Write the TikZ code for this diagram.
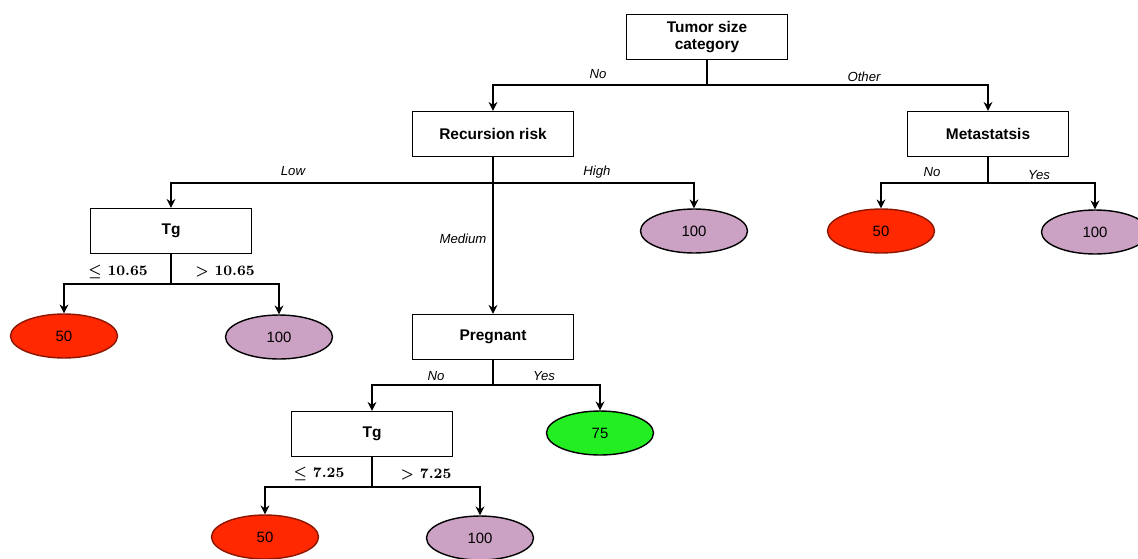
\documentclass[tikz,border=0pt]{standalone}
\usepackage{amsmath}
\usepackage{fontspec}
\setsansfont{Liberation Sans}
\usepackage{tikz}
\usetikzlibrary{arrows.meta, shapes.geometric}

\definecolor{hojarojo}{RGB}{255,40,0}
\definecolor{hojarosa}{RGB}{204,162,196}
\definecolor{hojaverde}{RGB}{34,238,34}

\tikzset{
  caja/.style={draw, line width=0.8pt, minimum width=3.22cm, minimum height=0.9cm,
    align=center, font=\sffamily\bfseries\fontsize{8.8}{9.2}\selectfont},
  hoja/.style={ellipse, line width=0.8pt, minimum width=2.14cm, minimum height=0.88cm,
    inner sep=0pt, font=\sffamily\fontsize{8.5}{10}\selectfont},
  rojo/.style={hoja, draw=hojarojo!55!black, fill=hojarojo},
  rosa/.style={hoja, draw=black, fill=hojarosa},
  verde/.style={hoja, draw=black, fill=hojaverde},
  rama/.style={line width=0.8pt},
  flecha/.style={line width=0.8pt, -{Stealth[length=5pt, width=5pt]}},
  etiq/.style={font=\sffamily\itshape\fontsize{7.5}{9}\selectfont, inner sep=1pt},
  umbral/.style={font=\bfseries\fontsize{8.2}{9}\selectfont, inner sep=1pt}
}

\begin{document}
\begin{tikzpicture}[x=0.02cm, y=-0.02cm]
  \useasboundingbox (0,0) rectangle (1138,558);

  % Nodos de decision
  \node[caja] (tumor) at (707,37) {Tumor size\\category};
  \node[caja] (recur) at (493,134) {Recursion risk};
  \node[caja] (meta) at (988,134) {Metastatsis};
  \node[caja] (tgA) at (171,231) {Tg};
  \node[caja] (preg) at (493,337) {Pregnant};
  \node[caja] (tgB) at (372,434) {Tg};

  % Hojas
  \node[rosa] (altoR) at (694,231) {100};
  \node[rojo] (metaNo) at (881,231) {50};
  \node[rosa] (metaSi) at (1095,232) {100};
  \node[rojo] (tgAbajo) at (64,336) {50};
  \node[rosa] (tgAalto) at (279,337) {100};
  \node[verde] (pregSi) at (600,433) {75};
  \node[rojo] (tgBbajo) at (265,537) {50};
  \node[rosa] (tgBalto) at (480,538) {100};

  % Uniones
  \coordinate (jTumor) at (707,85);
  \coordinate (jRecur) at (493,183);
  \coordinate (jMeta) at (988,183);
  \coordinate (jTgA) at (171,284);
  \coordinate (jPreg) at (493,385);
  \coordinate (jTgB) at (372,487);

  % Ramas
  \draw[rama] (tumor) -- (jTumor);
  \draw[flecha] (jTumor) -| (recur);
  \draw[flecha] (jTumor) -| (meta);

  \draw[rama] (recur) -- (jRecur);
  \draw[flecha] (jRecur) -| (tgA);
  \draw[flecha] (jRecur) -| (altoR);
  \draw[flecha] (jRecur) -- (preg);

  \draw[rama] (meta) -- (jMeta);
  \draw[flecha] (jMeta) -| (metaNo);
  \draw[flecha] (jMeta) -| (metaSi);

  \draw[rama] (tgA) -- (jTgA);
  \draw[flecha] (jTgA) -| (tgAbajo);
  \draw[flecha] (jTgA) -| (tgAalto);

  \draw[rama] (preg) -- (jPreg);
  \draw[flecha] (jPreg) -| (tgB);
  \draw[flecha] (jPreg) -| (pregSi);

  \draw[rama] (tgB) -- (jTgB);
  \draw[flecha] (jTgB) -| (tgBbajo);
  \draw[flecha] (jTgB) -| (tgBalto);

  % Etiquetas
  \node[etiq] (lNo1) at (598,74) {No};
  \node[etiq] (lOther) at (864,77) {Other};
  \node[etiq] (lLow) at (293,171) {Low};
  \node[etiq] (lHigh) at (597,172) {High};
  \node[etiq] (lMed) at (463,239) {Medium};
  \node[etiq] (lNo2) at (932,172) {No};
  \node[etiq] (lYes2) at (1039,175) {Yes};
  \node[etiq] (lNo3) at (436,376) {No};
  \node[etiq] (lYes3) at (544,376) {Yes};
  \node[umbral] (lLeA) at (118,272) {$\boldsymbol{\leq}$ 10.65};
  \node[umbral] (lGtA) at (225,272) {$\boldsymbol{>}$ 10.65};
  \node[umbral] (lLeB) at (319,474) {$\boldsymbol{\leq}$ 7.25};
  \node[umbral] (lGtB) at (426,474) {$\boldsymbol{>}$ 7.25};
\end{tikzpicture}
\end{document}
